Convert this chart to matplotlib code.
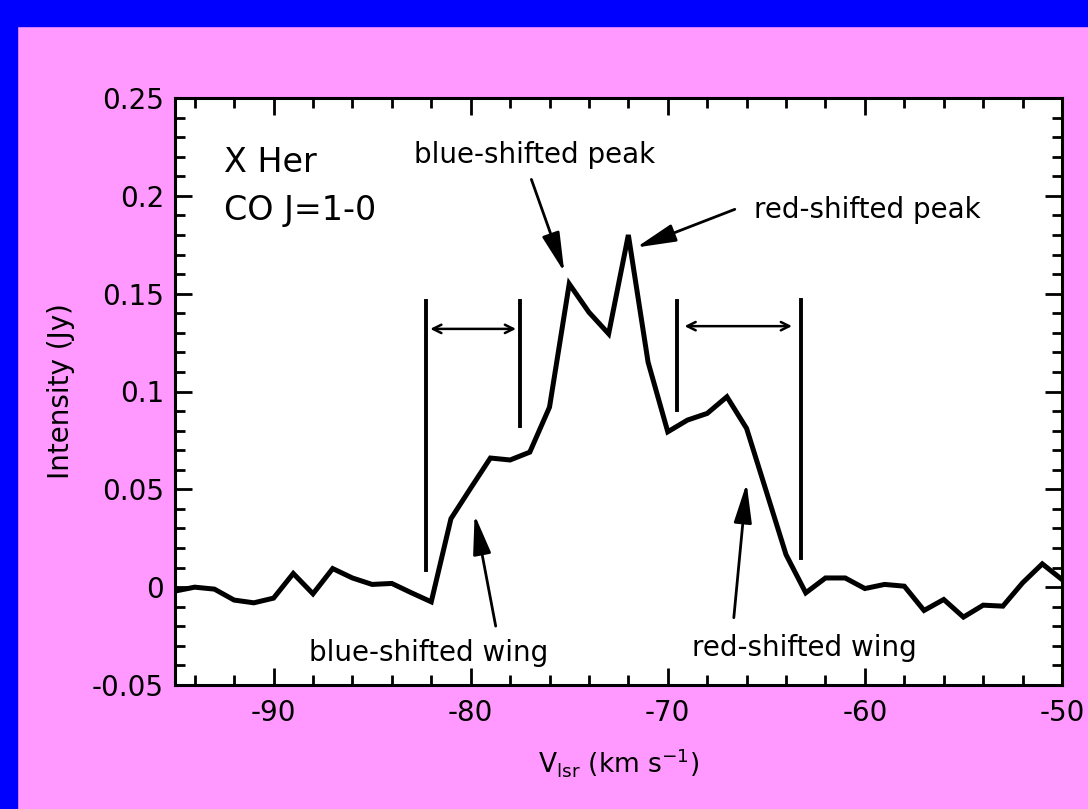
import numpy as np
import matplotlib
matplotlib.use("Agg")
import matplotlib.pyplot as plt
from matplotlib.patches import Rectangle
from matplotlib.ticker import MultipleLocator, FuncFormatter

# CO J=1-0 spectrum of X Her
velocity = [-95, -94, -93, -92, -91, -90, -89, -88, -87, -86,
            -85, -84, -83, -82, -81, -80, -79, -78, -77, -76,
            -75, -74, -73, -72, -71, -70, -69, -68, -67, -66,
            -65, -64, -63, -62, -61, -60, -59, -58, -57, -56,
            -55, -54, -53, -52, -51, -50]
intensity = [-0.002, 0.000, -0.001, -0.0066, -0.008, -0.0056, 0.007, -0.0034, 0.0095, 0.0047,
             0.0014, 0.0019, -0.0029, -0.0075, 0.035, 0.0506, 0.066, 0.065, 0.069, 0.092,
             0.155, 0.1405, 0.1295, 0.180, 0.115, 0.0794, 0.0854, 0.0888, 0.0973, 0.0811,
             0.0489, 0.0166, -0.0029, 0.0047, 0.0047, -0.0007, 0.0014, 0.0005, -0.0119, -0.0063,
             -0.0153, -0.0092, -0.0097, 0.0022, 0.0119, 0.0039]

# wing ranges: (velocity, bottom, top) of the marker lines
blue_wing_lines = [(-82.25, 0.009, 0.146), (-77.5, 0.0825, 0.146)]
red_wing_lines = [(-69.55, 0.0908, 0.146), (-63.25, 0.015, 0.147)]
blue_wing_span = (-82.05, -77.7, 0.132)
red_wing_span = (-69.15, -63.7, 0.1334)

# labels: text, text position, arrow tip, arrow tail
labels = [
    ("blue-shifted peak", (-76.75, 0.221), (-75.25, 0.161), (-76.92, 0.2084)),
    ("red-shifted peak", (-59.9, 0.193), (-71.6, 0.1736), (-66.6, 0.1931)),
    ("blue-shifted wing", (-82.15, -0.0335), (-79.8, 0.037), (-78.73, -0.0199)),
    ("red-shifted wing", (-63.05, -0.031), (-66.0, 0.0531), (-66.65, -0.0156)),
]

plt.rcParams['font.family'] = ['DejaVu Sans']
plt.rcParams['axes.unicode_minus'] = False
plt.rcParams['mathtext.default'] = 'regular'

fig = plt.figure(figsize=(10.88, 8.09), dpi=100, facecolor='#FF99FF')
# blue frame strips at top and left
fig.patches.append(Rectangle((0, 1 - 26 / 809), 1, 26 / 809, transform=fig.transFigure,
                             color='#0000FF', zorder=0))
fig.patches.append(Rectangle((0, 0), 17 / 1088, 1, transform=fig.transFigure,
                             color='#0000FF', zorder=0))

ax = fig.add_axes([175 / 1088, 124 / 809, 887 / 1088, 587 / 809])
ax.set_facecolor('white')

ax.plot(velocity, intensity, color='black', lw=3.6, solid_joinstyle='miter')

for v, y0, y1 in blue_wing_lines + red_wing_lines:
    ax.plot([v, v], [y0, y1], color='black', lw=2.8)
for x0, x1, y in [blue_wing_span, red_wing_span]:
    ax.annotate('', xy=(x1, y), xytext=(x0, y),
                arrowprops=dict(arrowstyle='<->,head_length=0.6,head_width=0.3',
                                color='black', lw=1.8, shrinkA=0, shrinkB=0))

for text, tpos, tip, tail in labels:
    ax.text(tpos[0], tpos[1], text, fontsize=20, ha='center', va='center')
    ax.annotate('', xy=tip, xytext=tail,
                arrowprops=dict(arrowstyle='-|>,head_length=1.1,head_width=0.25',
                                color='black', lw=2.0, shrinkA=0, shrinkB=0,
                                mutation_scale=22))

ax.text(-92.5, 0.217, 'X Her', fontsize=24, ha='left', va='center')
ax.text(-92.5, 0.1925, 'CO J=1-0', fontsize=24, ha='left', va='center')

ax.set_xlim(-95, -50)
ax.set_ylim(-0.05, 0.25)
ax.xaxis.set_major_locator(MultipleLocator(10))
ax.xaxis.set_minor_locator(MultipleLocator(2))
ax.yaxis.set_major_locator(MultipleLocator(0.05))
ax.yaxis.set_minor_locator(MultipleLocator(0.01))
ax.yaxis.set_major_formatter(FuncFormatter(lambda y, p: '%g' % round(y, 3)))
ax.xaxis.set_major_formatter(FuncFormatter(lambda x, p: '%g' % x))

ax.tick_params(which='both', direction='in', top=True, right=True, width=2, labelsize=20)
ax.tick_params(which='major', length=12)
ax.tick_params(which='minor', length=7)
ax.tick_params(axis='x', pad=10)
ax.tick_params(axis='y', pad=8)
for s in ax.spines.values():
    s.set_linewidth(2.2)

ax.set_xlabel(r'V$_{lsr}$ (km s$^{-1}$)', fontsize=19, labelpad=14)
ax.set_ylabel('Intensity (Jy)', fontsize=20, labelpad=12)

fig.savefig('out.png', dpi=100, facecolor=fig.get_facecolor())
